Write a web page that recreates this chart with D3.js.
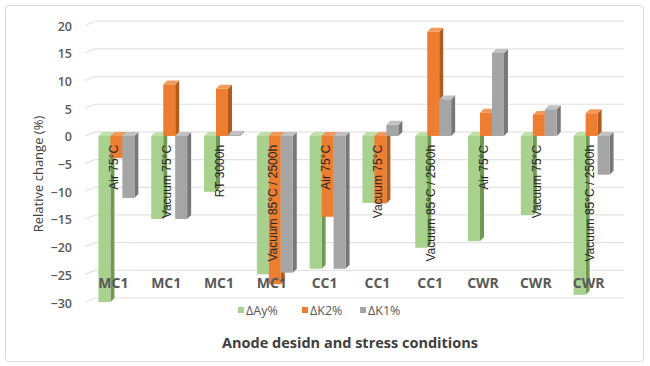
<!DOCTYPE html>
<html><head><meta charset="utf-8">
<script src="https://cdn.jsdelivr.net/npm/d3@7"></script>
<style>body{margin:0;background:#fff}svg{display:block}</style>
</head><body><svg id="c" width="650" height="366"></svg>
<script>
const categories = ["MC1","MC1","MC1","MC1","CC1","CC1","CC1","CWR","CWR","CWR"];
const conditions = ["Air 75°C","Vacuum 75°C","RT 3000h","Vacuum 85°C / 2500h","Air 75°C","Vacuum 75°C","Vacuum 85°C / 2500h","Air 75°C","Vacuum 75°C","Vacuum 85°C / 2500h"];
const seriesNames = ["ΔAy%","ΔK2%","ΔK1%"];
const dAy = [-30,-15,-10.1,-25,-24,-12.1,-20.2,-19,-14.3,-28.7];
const dK2 = [-4,9.3,8.5,-26.8,-14.6,-12.2,18.8,4.2,3.8,4.1];
const dK1 = [-11.2,-15,0.2,-24.7,-24,2,6.6,15,4.8,-7];
const yTicks = [20,15,10,5,0,-5,-10,-15,-20,-25,-30];
const colors = ["#a9d18e","#ed7d31","#a5a5a5"];
const sideColors = ["#6e9a52","#b35a1d","#777777"];
const topColors = ["#bfe0a8","#f29a5c","#c2c2c2"];

const svg = d3.select("#c");
const DX = 4, DY = -4;
const y = d3.scaleLinear().domain([-30,20]).range([302,25.2]);
const idx = d3.range(categories.length);
const x = d3.scaleBand().domain(idx).range([90,618]).paddingInner(0.32).paddingOuter(0.16);
const xs = d3.scaleBand().domain([0,1,2]).range([0,x.bandwidth()]);

// border
svg.append("rect").attr("x",5.5).attr("y",5.5).attr("width",638).attr("height",356)
  .attr("rx",3).attr("fill","#fff").attr("stroke","#d9d9d9");

// gridlines (back wall)
const g = svg.append("g");
yTicks.forEach(t=>{
  const yy = y(t)+DY;
  g.append("line").attr("x1",95).attr("x2",624).attr("y1",yy).attr("y2",yy)
    .attr("stroke","#e3e3e3").attr("stroke-width",1.2);
  g.append("line").attr("x1",85).attr("x2",95).attr("y1",yy+4).attr("y2",yy)
    .attr("stroke","#e3e3e3").attr("stroke-width",1.2);
});

// y tick labels
const yAxis = d3.axisLeft(y).tickValues(yTicks).tickSize(0).tickPadding(0);
const ya = svg.append("g").attr("transform","translate(72,1)").call(yAxis);
ya.select(".domain").remove();
ya.selectAll("text").attr("fill","#595959").style("font-family","Open Sans, sans-serif")
  .style("font-size","12.5px").style("font-weight","600");

// bars
const data = [dAy,dK2,dK1];
const bars = svg.append("g");
idx.forEach(i=>{
  [0,1,2].forEach(s=>{
    const v = data[s][i];
    const x0 = x(i)+xs(s), x1 = x0+xs.bandwidth();
    const yt = Math.min(y(0),y(v)), yb = Math.max(y(0),y(v));
    bars.append("path").attr("d",`M${x1},${yt}L${x1+DX},${yt+DY}L${x1+DX},${yb+DY}L${x1},${yb}Z`).attr("fill",sideColors[s]);
    bars.append("path").attr("d",`M${x0},${yt}L${x0+DX},${yt+DY}L${x1+DX},${yt+DY}L${x1},${yt}Z`).attr("fill",topColors[s]);
    bars.append("rect").attr("x",x0).attr("y",yt).attr("width",x1-x0).attr("height",Math.max(0.5,yb-yt)).attr("fill",colors[s]);
  });
});

// condition labels inside bars
idx.forEach(i=>{
  const cx = x(i)+x.bandwidth()/2-2;
  svg.append("text").attr("transform",`translate(${cx},${y(0)+9}) rotate(-90)`)
    .attr("text-anchor","end").attr("dominant-baseline","central")
    .attr("fill","#262626").style("font-family","Liberation Sans, Arial, sans-serif").style("font-size","12px")
    .text(conditions[i]);
});

// category labels
idx.forEach(i=>{
  const cx = x(i)+x.bandwidth()/2-3;
  svg.append("text").attr("x",cx).attr("y",y(-26.5)).attr("text-anchor","middle").attr("dominant-baseline","central")
    .attr("fill","#595959").style("font-family","Open Sans, sans-serif").style("font-size","14px").style("font-weight","700")
    .text(categories[i]);
});

// legend
const legX = [238,302,360];
seriesNames.forEach((n,s)=>{
  svg.append("rect").attr("x",legX[s]).attr("y",307).attr("width",6).attr("height",6).attr("fill",colors[s]);
  svg.append("text").attr("x",legX[s]+8).attr("y",310.5).attr("dominant-baseline","central")
    .attr("fill","#595959").style("font-family","Open Sans, sans-serif").style("font-size","12.5px").text(n);
});

// axis titles
svg.append("text").attr("x",350).attr("y",342).attr("text-anchor","middle").attr("dominant-baseline","central")
  .attr("fill","#404040").style("font-family","Open Sans, sans-serif").style("font-size","14.5px").style("font-weight","700")
  .text("Anode desidn and stress conditions");
svg.append("text").attr("transform","translate(38,174) rotate(-90)").attr("text-anchor","middle").attr("dominant-baseline","central")
  .attr("fill","#404040").style("font-family","Open Sans, sans-serif").style("font-size","13px")
  .text("Relative change (%)");
</script></body></html>
